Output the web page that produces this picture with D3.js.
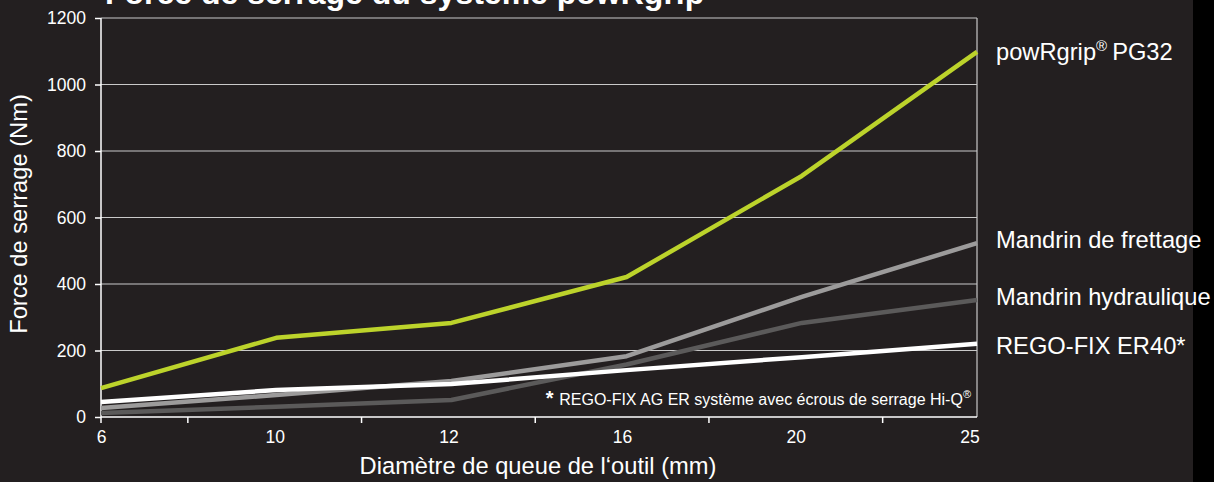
<!DOCTYPE html>
<html>
<head>
    <meta charset="utf-8">
    <style>
        body {
            margin: 0;
            background-color: #231f20;
            font-family: "Liberation Sans", Arial, sans-serif;
        }
        svg { display: block; }
        .grid line { stroke: #c9c9c9; stroke-width: 1.2px; }
        .axis text { fill: #fff; font-size: 17.5px; font-family: "Liberation Sans", Arial, sans-serif; }
        .axis path, .axis line { stroke: #fff; stroke-width: 1.5px; }
        .serie { fill: none; stroke-width: 4.5px; stroke-linejoin: round; }
        .lbl { fill: #fff; font-size: 23.7px; }
    </style>
</head>
<body>
    <div id="chart"></div>
    <script src="https://d3js.org/d3.v7.min.js"></script>
    <script>
        // diamètres (mm) - categories
        var diametres = ["6", "10", "12", "16", "20", "25"];
        var yTicks = [0, 200, 400, 600, 800, 1000, 1200];

        // force de serrage (Nm)
        var hydraulique = [12, 31, 51, 158, 283, 352];
        var frettage = [27, 66, 108, 183, 361, 523];
        var regofix = [45, 81, 99, 141, 180, 220];
        var powrgrip = [87, 238, 283, 421, 725, 1098];

        var series = [
            {name: "Mandrin hydraulique", values: hydraulique, color: "#5b5a5a"},
            {name: "Mandrin de frettage", values: frettage, color: "#9c9b9b"},
            {name: "REGO-FIX ER40*", values: regofix, color: "#ffffff"},
            {name: "powRgrip", values: powrgrip, color: "#bcd32b"}
        ];

        var W = 1214, H = 482;
        var pLeft = 101, pRight = 977, pTop = 18, pBottom = 417;

        var svg = d3.select("#chart").append("svg")
            .attr("width", W)
            .attr("height", H);

        // bande noire à droite
        svg.append("rect")
            .attr("x", 1193).attr("y", 0)
            .attr("width", W - 1193).attr("height", H)
            .attr("fill", "#000");

        var x = d3.scalePoint().domain(diametres).range([pLeft, pRight]);
        var xl = d3.scalePoint().domain(diametres).range([pLeft, 969.5]);
        var y = d3.scaleLinear().domain([0, 1200]).range([pBottom, pTop]);

        // titre (coupé en haut)
        svg.append("text")
            .attr("x", 105).attr("y", 4)
            .attr("fill", "#fff")
            .style("font-size", "32px")
            .style("font-weight", "bold")
            .text("Force de serrage du système powRgrip");

        // grille
        svg.append("g").attr("class", "grid")
            .selectAll("line")
            .data(yTicks.slice(1))
            .enter().append("line")
            .attr("x1", pLeft).attr("x2", pRight)
            .attr("y1", function(d) { return y(d); })
            .attr("y2", function(d) { return y(d); });

        svg.append("line")
            .attr("x1", pRight).attr("x2", pRight)
            .attr("y1", pTop).attr("y2", pBottom)
            .attr("stroke", "#c9c9c9").attr("stroke-width", 1.2);

        // axe y
        var yAxis = svg.append("g").attr("class", "axis")
            .attr("transform", "translate(" + pLeft + ",0)")
            .call(d3.axisLeft(y).tickValues(yTicks).tickFormat(d3.format("d"))
                .tickSize(6).tickSizeOuter(0).tickPadding(9));
        yAxis.select(".domain").attr("d", "M0," + pBottom + "V" + pTop);

        // axe x : libellés
        var xAxis = svg.append("g").attr("class", "axis")
            .attr("transform", "translate(0," + pBottom + ")")
            .call(d3.axisBottom(xl).tickSize(0).tickPadding(14));
        xAxis.select(".domain").attr("d", "M" + pLeft + ",0H" + pRight);

        // axe x : traits entre les libellés
        var mids = diametres.slice(1).map(function(d, i) {
            return (xl(diametres[i]) + xl(d)) / 2;
        });
        mids.unshift(pLeft);
        svg.append("g")
            .selectAll("line")
            .data(mids)
            .enter().append("line")
            .attr("x1", function(d) { return d; })
            .attr("x2", function(d) { return d; })
            .attr("y1", pBottom).attr("y2", pBottom + 6)
            .attr("stroke", "#fff").attr("stroke-width", 1.5);

        // courbes
        var line = d3.line()
            .x(function(d, i) { return x(diametres[i]); })
            .y(function(d) { return y(d); });

        svg.selectAll("path.serie")
            .data(series)
            .enter().append("path")
            .attr("class", "serie")
            .attr("stroke", function(d) { return d.color; })
            .attr("d", function(d) { return line(d.values); });

        // étiquettes à droite
        var lx = 996;
        var pg = svg.append("text").attr("class", "lbl")
            .attr("x", lx).attr("y", y(powrgrip[5]) + 8);
        pg.append("tspan").text("powRgrip");
        pg.append("tspan").attr("dy", -9).style("font-size", "15px").text("®");
        pg.append("tspan").attr("dy", 9).attr("dx", 5).text("PG32");

        svg.append("text").attr("class", "lbl")
            .attr("x", lx).attr("y", y(frettage[5]) + 5)
            .text("Mandrin de frettage");
        svg.append("text").attr("class", "lbl")
            .attr("x", lx).attr("y", y(hydraulique[5]) + 5)
            .text("Mandrin hydraulique");
        svg.append("text").attr("class", "lbl")
            .attr("x", lx).attr("y", y(regofix[5]) + 10)
            .text("REGO-FIX ER40*");

        // note
        var note = svg.append("text")
            .attr("x", 971).attr("y", 405)
            .attr("text-anchor", "end")
            .attr("fill", "#fff")
            .style("font-size", "16px");
        note.append("tspan").style("font-weight", "bold").style("font-size", "20px").text("* ");
        note.append("tspan").text("REGO-FIX AG ER système avec écrous de serrage Hi-Q");
        note.append("tspan").attr("dy", -7).style("font-size", "11px").text("®");

        // titres d'axes
        svg.append("text").attr("class", "lbl")
            .attr("x", 538).attr("y", 474)
            .attr("text-anchor", "middle")
            .text("Diamètre de queue de l‘outil (mm)");

        svg.append("text").attr("class", "lbl")
            .attr("transform", "translate(27,214) rotate(-90)")
            .attr("text-anchor", "middle")
            .text("Force de serrage (Nm)");
    </script>
</body>
</html>
